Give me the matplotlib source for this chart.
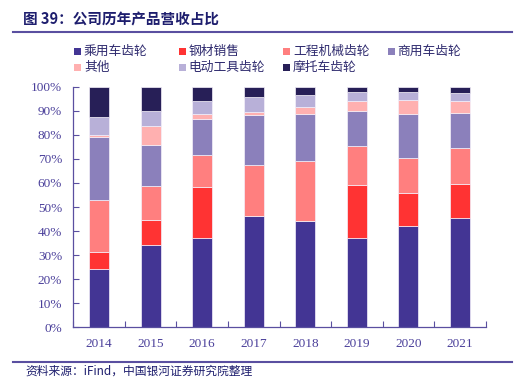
import matplotlib
matplotlib.use('Agg')
import matplotlib.pyplot as plt
from matplotlib.patches import Rectangle
from matplotlib.lines import Line2D
import numpy as np

# --- data (% of revenue) ---
years = ['2014', '2015', '2016', '2017', '2018', '2019', '2020', '2021']
series_names = ['乘用车齿轮', '钢材销售', '工程机械齿轮', '商用车齿轮',
                '其他', '电动工具齿轮', '摩托车齿轮']
passenger = [24.2, 34.1, 37.3, 46.4, 44.3, 37.3, 42.2, 45.3]
steel = [7.1, 10.6, 21.1, 0.0, 0.0, 22.0, 13.8, 14.4]
construction = [21.6, 14.2, 13.1, 21.1, 24.7, 16.2, 14.2, 15.0]
commercial = [26.2, 17.0, 15.2, 20.6, 19.8, 14.5, 18.6, 14.5]
other = [0.7, 7.6, 1.8, 1.5, 2.6, 4.0, 5.5, 4.8]
power_tool = [7.5, 6.5, 5.5, 6.2, 5.1, 3.6, 3.5, 3.2]
motorcycle = [12.7, 10.0, 6.0, 4.2, 3.5, 2.4, 2.2, 2.8]

colors = ['#433594', '#FF3333', '#FF7F7F', '#8B80BB', '#FFB0B0', '#B8B0D8', '#271F57']

plt.rcParams['font.family'] = ['Noto Sans CJK SC', 'DejaVu Sans']

W, H = 523, 377
fig = plt.figure(figsize=(W / 100, H / 100), dpi=100)

def fx(px):
    return px / W

def fy(py):
    return 1 - py / H

ax = fig.add_axes([fx(73.3), fy(327.3), fx(485.7) - fx(73.3), fy(86.7) - fy(327.3)])

axis_col = '#5A4FA0'
label_col = '#4A3F9A'

x = np.arange(len(years))
data = [passenger, steel, construction, commercial, other, power_tool, motorcycle]
bottom = np.zeros(len(years))
for vals, name, c in zip(data, series_names, colors):
    vals = np.array(vals)
    ax.bar(x, vals, width=0.39, bottom=bottom, color=c, edgecolor='#F4F0FA',
           linewidth=0.5, label=name)
    bottom += vals

ax.set_xlim(-0.5, 7.5)
ax.set_ylim(0, 100)
ax.set_yticks(np.arange(0, 101, 10))
ax.set_yticklabels([f'{v}%' for v in range(0, 101, 10)])
ax.set_xticks(x)
ax.set_xticklabels(years)
ax.set_xticks(np.arange(-0.5, 7.6, 1), minor=True)
ax.tick_params(axis='x', which='major', length=0, pad=8)
ax.tick_params(axis='x', which='minor', direction='in', length=4, color=axis_col, width=0.8)
ax.tick_params(axis='y', direction='in', length=4, color=axis_col, width=0.8, pad=8)
for lab in ax.get_xticklabels() + ax.get_yticklabels():
    lab.set_family(['Liberation Serif'])
    lab.set_fontsize(9.5)
    lab.set_color(label_col)

for s in ['top', 'right']:
    ax.spines[s].set_visible(False)
for s in ['left', 'bottom']:
    ax.spines[s].set_color(axis_col)
    ax.spines[s].set_linewidth(0.9)

# legend, laid out row by row in 4 fixed columns like the reference
col_x = [74, 178.5, 283, 387.5]
row_y = [51, 67]
sq = 7
for i, (name, c) in enumerate(zip(series_names, colors)):
    px = col_x[i % 4]
    py = row_y[i // 4]
    fig.add_artist(Rectangle((fx(px), fy(py + sq / 2)), sq / W, sq / H,
                             facecolor=c, edgecolor='none', transform=fig.transFigure))
    fig.text(fx(px + 10), fy(py), name, fontsize=9.2, color='#2E2A6E',
             va='center', ha='left')

# title and rules
fig.text(fx(23), fy(19), '图 39：公司历年产品营收占比', fontsize=10.5, fontweight='bold',
         color='#1E1E6E', va='center', ha='left')
fig.add_artist(Line2D([fx(13), fx(512)], [fy(32), fy(32)], color='#5A4FA0', lw=1.5))
fig.add_artist(Line2D([fx(13), fx(512)], [fy(362), fy(362)], color='#5A4FA0', lw=1.5))
fig.text(fx(25), fy(365), '资料来源：iFind，中国银河证券研究院整理', fontsize=8.5,
         color='#1E1E6E', va='top', ha='left', style='italic')

fig.savefig('out.png', dpi=100)
